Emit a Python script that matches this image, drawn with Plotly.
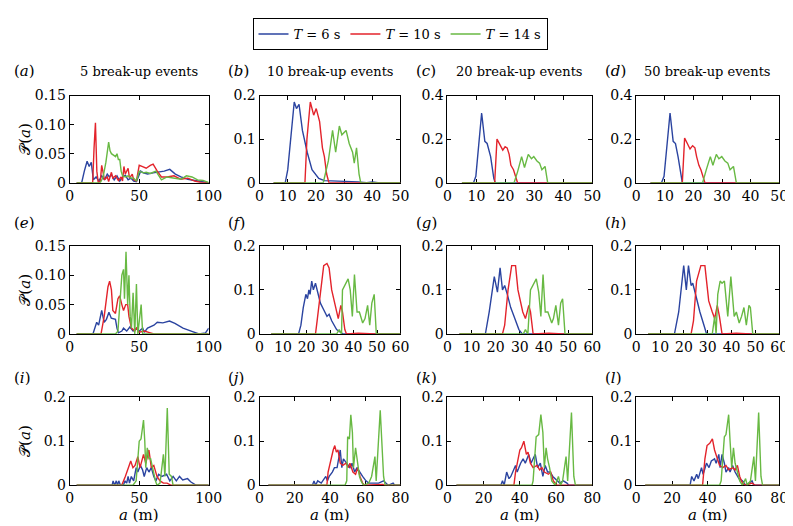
import plotly.graph_objects as go

# ---------------- data (a in m, P(a)) ----------------
a_blue = [(8.6,0),(10.5,0.02),(12.5,0.037),(14,0.028),(15.5,0.035),(17,0.005),(19,0.01),(21,0.003),(23,0.012),(25,0.005),(27,0.015),(28.5,0.01),(30,0.014),(32,0.005),(34,0.012),(36,0.003),(38,0.01),(40,0.013),(42,0.005),(44,0.008),(46,0.003),(48,0.002),(51,0.02),(53,0.017),(56,0.015),(60,0.017),(64,0.018),(68,0.02),(72,0.023),(76,0.015),(80,0.01),(85,0.006),(90,0.004),(95,0.002),(98,0)]
a_red = [(16.5,0),(17.5,0.06),(18.5,0.103),(19.5,0.02),(20.5,0),(22,0.003),(23,0.03),(24,0.018),(25,0.005),(27,0.01),(28,0.002),(30,0.018),(31,0.008),(33,0.012),(35,0.004),(37,0.01),(38,0.003),(39,0.028),(40,0.015),(42,0.025),(43,0.008),(45,0.015),(46,0.005),(48,0.003),(50,0.03),(52,0.028),(55,0.025),(58,0.03),(60,0.032),(63,0.02),(66,0.01),(70,0.01),(75,0.012),(80,0.006),(85,0.008),(90,0.003),(95,0)]
a_green = [(22,0),(24,0.01),(26,0.035),(28,0.07),(29,0.055),(30,0.05),(31,0.048),(33,0.045),(34,0.05),(35,0.04),(36,0.04),(37,0.02),(38,0.012),(40,0.01),(42,0.012),(44,0.008),(46,0.008),(48,0.003),(50,0.02),(53,0.017),(55,0.018),(58,0.016),(62,0.02),(66,0.005),(70,0.01),(75,0.008),(80,0.006),(84,0.012),(88,0.01),(92,0.005),(96,0.004),(100,0)]

b_blue = [(9.1,0),(10,0.03),(11,0.1),(12.3,0.185),(13.1,0.17),(14,0.18),(15.2,0.12),(16.9,0.07),(18.6,0.03),(21,0.01),(23,0.005),(28,0.004),(35,0.002),(38,0),(40,0.002),(42,0)]
b_red = [(16.1,0),(16.8,0.1),(18,0.185),(19.2,0.155),(20.1,0.17),(21.3,0.14),(22.3,0.08),(23,0.06),(23.8,0.02),(24.6,0)]
b_green = [(22.6,0),(24.4,0.05),(25.9,0.12),(27,0.07),(28.3,0.13),(29.2,0.11),(30.7,0.12),(31.8,0.09),(33,0.07),(33.6,0.045),(34.4,0.08),(35.3,0.02),(35.9,0)]

c_blue = [(9,0),(9.8,0.03),(11.8,0.32),(12.9,0.19),(13.7,0.18),(14.9,0.12),(16,0.02),(16.5,0)]
c_red = [(16.3,0),(17.1,0.2),(18.2,0.17),(19.1,0.15),(19.9,0.165),(20.6,0.16),(21.3,0.13),(21.9,0.08),(22.8,0.06),(23.6,0.02),(24.2,0)]
c_green = [(23,0),(24.2,0.05),(25.6,0.12),(26.6,0.07),(27.9,0.13),(29,0.11),(29.8,0.12),(30.9,0.1),(31.8,0.09),(32.6,0.06),(33.7,0.075),(34.6,0)]

d_blue = [(8.8,0),(9.7,0.03),(11.8,0.32),(12.9,0.19),(13.7,0.18),(14.6,0.12),(15.8,0.02),(16.1,0)]
d_red = [(16.1,0),(16.9,0.205),(17.9,0.18),(18.8,0.155),(19.7,0.17),(20.5,0.16),(21.1,0.12),(21.9,0.08),(22.6,0.06),(23.4,0.02),(24,0)]
d_green = [(23.2,0),(24.5,0.06),(25.9,0.12),(26.8,0.08),(28,0.13),(28.9,0.11),(29.9,0.12),(31,0.1),(32,0.09),(32.8,0.06),(34,0.075),(35,0)]

e_blue = [(16.7,0),(19.4,0.02),(20.8,0.015),(23,0.04),(24.8,0.02),(26.4,0.025),(28.2,0.037),(29.9,0.027),(32.9,0.025),(34,0.01),(35,0.002),(37.5,0.005),(38.7,0.01),(41,0.005),(43.3,0.012),(45.6,0.005),(48,0.01),(50,0.005),(52.5,0.01),(53.7,0.003),(56,0.01),(60.6,0.015),(63,0.02),(67,0.019),(71.8,0.022),(75.7,0.018),(81.5,0.01),(88.4,0.004),(93,0),(97.7,0.002),(100,0.01)]
e_red = [(22.5,0),(24.8,0.03),(27.5,0.08),(28.7,0.09),(30,0.075),(31,0.04),(32.9,0.035),(34.7,0.06),(35.9,0.065),(37.5,0.05),(38.7,0.04),(40.3,0.05),(41.7,0.05),(42.6,0.03),(44.4,0.01),(46.8,0.005),(48,0.01),(50,0.003),(53.7,0.005),(58,0.002),(60.6,0)]
e_green = [(32.9,0),(34.7,0.005),(36.3,0.06),(37.5,0.1),(38.7,0.11),(39.4,0.06),(40.5,0.14),(41.7,0.05),(42.6,0.1),(43.5,0.03),(44.4,0.01),(45.6,0.07),(46.8,0),(48,0.085),(49,0),(51.4,0.05),(52.5,0)]

f_blue = [(16.6,0),(17.6,0.02),(18.6,0.06),(19.7,0.09),(20.4,0.08),(21,0.1),(21.5,0.09),(22.2,0.12),(22.9,0.1),(23.8,0.115),(24.8,0.09),(25.9,0.07),(27.3,0.055),(28.7,0.04),(29.6,0.045),(30.7,0.03),(32.8,0.01),(34.2,0.005),(35.6,0)]
f_red = [(23.8,0),(24.5,0.03),(25.9,0.1),(27.3,0.155),(28.7,0.16),(29.6,0.15),(30.7,0.1),(31.9,0.07),(32.8,0.045),(33.5,0.035),(34.6,0.065),(35.3,0.05),(36.3,0.01),(37,0),(42,0.002),(49.4,0)]
f_green = [(32.8,0),(33.9,0.01),(34.9,0),(35.3,0.1),(36.3,0.11),(37.7,0.125),(38.6,0.1),(39.5,0.04),(40.4,0.135),(41.5,0.05),(42.5,0.05),(43.9,0.025),(44.9,0.035),(46,0.065),(46.9,0.02),(47.8,0.07),(48.8,0.09),(49.7,0)]

g_blue = [(15.7,0),(17.3,0.05),(19.4,0.13),(20.7,0.095),(21.8,0.15),(22.8,0.1),(23.7,0.11),(24.8,0.09),(26.2,0.06),(27.6,0.04),(29.6,0.01),(31,0)]
g_red = [(22.8,0),(23.7,0.02),(25.1,0.1),(26.6,0.155),(28.2,0.155),(29.2,0.1),(30.3,0.07),(31.2,0.05),(32.3,0.035),(33.7,0.065),(34.4,0.05),(35.5,0),(42,0.002),(48,0)]
g_green = [(31.4,0),(32.3,0.01),(33.3,0),(34.4,0.1),(35.5,0.11),(36.8,0.125),(37.8,0.095),(38.7,0.04),(39.6,0.135),(40.5,0.05),(41.6,0.05),(43.2,0.025),(43.9,0.035),(44.9,0.065),(46,0.02),(46.9,0.07),(47.7,0.08),(48.7,0)]

h_blue = [(16,0),(17.8,0.05),(19.9,0.155),(21,0.1),(21.9,0.155),(23,0.11),(23.7,0.115),(25.1,0.085),(26.7,0.05),(28.4,0.02),(29.5,0)]
h_red = [(23,0),(24,0.03),(25.3,0.12),(27.1,0.155),(28.8,0.155),(29.5,0.12),(30.4,0.075),(31.9,0.05),(32.9,0.035),(34,0.065),(34.9,0.04),(36,0),(42,0.002),(48,0)]
h_green = [(31.9,0),(32.9,0.04),(33.5,0),(34.2,0.09),(35.2,0.12),(36,0.115),(37,0.12),(38.4,0.04),(39.7,0.13),(41.1,0.04),(42,0.05),(43.2,0.025),(44.2,0.04),(45.2,0.06),(46.2,0.02),(47.3,0.065),(47.9,0.06),(48.9,0)]

i_blue = [(30.5,0),(31.2,0.01),(32.3,0),(33.5,0.01),(34.4,0),(35.3,0.01),(36.5,0),(38.6,0),(39.8,0.01),(41,0.005),(42,0.02),(43,0.005),(44.3,0.02),(46,0.01),(47.8,0.04),(49,0.03),(50.8,0.045),(52.4,0.035),(53.6,0.02),(55.4,0.04),(57,0.03),(58.7,0.04),(60.5,0.02),(62,0.01),(64,0.025),(66.3,0.02),(69.7,0.025),(72,0.01),(74.4,0.02),(76.7,0.01),(79,0.02),(81.3,0.012),(84.8,0.015),(87,0.008),(91,0)]
i_red = [(37.4,0),(40,0.02),(41.6,0.035),(43.9,0.055),(45.5,0.04),(47,0.045),(49,0.065),(50.6,0.04),(53.1,0.07),(54.7,0.05),(57,0.08),(58.7,0.04),(60.5,0.045),(62.8,0.02),(65,0.01),(67.4,0.005),(70,0.005),(73,0)]
i_green = [(45.5,0),(47.8,0.01),(50,0.1),(51.3,0.105),(53.1,0.148),(54,0.1),(54.7,0.04),(55.8,0.085),(57,0.06),(58.2,0.06),(60,0.03),(61.7,0.01),(62.8,0),(65,0.005),(67.4,0.07),(68.5,0.02),(70.2,0.175),(71.6,0.025),(73.2,0.02),(74.4,0)]

j_blue = [(30,0),(30.9,0.01),(31.8,0),(33,0.01),(35,0.005),(37.6,0.02),(38.5,0.01),(39.5,0.02),(41.3,0.03),(42.5,0.04),(44,0.04),(45.8,0.08),(46.7,0.04),(47.6,0.06),(49.5,0.05),(51.3,0.04),(52.5,0.05),(54,0.03),(55.3,0.04),(56.7,0.03),(58.5,0.02),(60.4,0.01),(62,0.005),(67.6,0.005),(70.4,0.01),(73,0),(75.8,0.005),(76.7,0)]
j_red = [(38.2,0),(38.9,0.03),(40.4,0.06),(41.8,0.08),(42.7,0.09),(43.6,0.075),(44.5,0.08),(45.8,0.05),(47.3,0.045),(49,0.05),(50.4,0.04),(51.3,0.05),(53,0.03),(54.5,0.025),(55.8,0.04),(57,0.02),(58.5,0.005),(59.5,0),(70,0.002),(71,0)]
j_green = [(48.5,0),(49.5,0.01),(50,0.11),(51,0.105),(51.8,0.16),(52.7,0.12),(53.3,0.04),(54.5,0.085),(55.3,0.06),(56.7,0.02),(57.6,0.01),(59,0),(62,0.005),(63.6,0.02),(65.5,0.065),(66.2,0.01),(68.5,0.17),(69.5,0.1),(70.4,0.02),(71.3,0)]

k_blue = [(29.5,0),(30.4,0.01),(31.3,0),(32.7,0.03),(34,0.015),(35,0.02),(37.6,0.045),(38.5,0.03),(40.4,0.05),(41.8,0.06),(43,0.05),(44.9,0.07),(46.2,0.05),(47.3,0.06),(48.5,0.07),(49.8,0.04),(51.3,0.05),(52.7,0.02),(54,0.045),(55.3,0.03),(56.7,0.03),(58.2,0.02),(60.4,0.01),(62,0.005),(64,0.01),(66,0.005),(67,0)]
k_red = [(36.7,0),(37.6,0.03),(38.9,0.06),(40,0.08),(40.9,0.085),(42.2,0.1),(43.6,0.07),(44.5,0.075),(45.8,0.05),(47.3,0.04),(49.5,0.045),(50.9,0.035),(52.2,0.04),(53.5,0.03),(55.8,0.025),(57,0.03),(58.5,0.01),(60.4,0)]
k_green = [(46.7,0),(47.3,0.01),(49,0.11),(50.4,0.115),(51.6,0.16),(52.7,0.12),(53.5,0.04),(54.5,0.085),(55.3,0.06),(56.4,0.04),(57.6,0.01),(59.5,0),(61.3,0.02),(62.5,0),(63.6,0.01),(65.5,0.065),(66.4,0.01),(68.5,0.165),(69.8,0.02),(70.7,0)]

l_blue = [(30.1,0),(31,0.02),(32.3,0.01),(33.8,0.025),(34.7,0.015),(36.5,0.04),(37.4,0.025),(39.3,0.05),(40.7,0.04),(42,0.055),(43.8,0.06),(44.7,0.05),(46.2,0.07),(46.9,0.04),(48,0.07),(49.3,0.05),(50.2,0.03),(51.7,0.04),(52.5,0.03),(53.9,0.045),(55.3,0.03),(57.5,0.015),(59.4,0.01),(61.2,0),(64.8,0.01),(65.8,0)]
l_red = [(37.1,0),(38.4,0.06),(39.6,0.09),(41.1,0.095),(42.6,0.105),(43.8,0.08),(44.7,0.07),(46.6,0.045),(48.4,0.04),(50.2,0.045),(51.7,0.035),(53.9,0.04),(55.3,0.035),(56.6,0.045),(57.9,0.02),(59.4,0.005),(61.2,0),(64.8,0.005),(66.6,0)]
l_green = [(46.6,0),(47.5,0.01),(49.3,0.11),(50.2,0.115),(51.7,0.16),(52.5,0.1),(53.4,0.04),(54.4,0.085),(55.3,0.05),(56.6,0.03),(57.9,0.01),(59.4,0),(61.2,0.015),(62.1,0),(63.9,0.01),(65.8,0.065),(66.7,0.01),(68.5,0.165),(69.8,0.02),(70.7,0)]

series_names = ["<i>T</i> = 6 s", "<i>T</i> = 10 s", "<i>T</i> = 14 s"]
col_titles = ["5 break-up events", "10 break-up events", "20 break-up events", "50 break-up events"]
panel_letters = ["a", "b", "c", "d", "e", "f", "g", "h", "i", "j", "k", "l"]

panel_series = [
    (a_blue, a_red, a_green), (b_blue, b_red, b_green), (c_blue, c_red, c_green), (d_blue, d_red, d_green),
    (e_blue, e_red, e_green), (f_blue, f_red, f_green), (g_blue, g_red, g_green), (h_blue, h_red, h_green),
    (i_blue, i_red, i_green), (j_blue, j_red, j_green), (k_blue, k_red, k_green), (l_blue, l_red, l_green),
]

x_max = [100, 50, 50, 50, 100, 60, 60, 60, 100, 80, 80, 80]
x_ticks = [[0, 50, 100], list(range(0, 51, 10)), list(range(0, 51, 10)), list(range(0, 51, 10)),
           [0, 50, 100], list(range(0, 61, 10)), list(range(0, 61, 10)), list(range(0, 61, 10)),
           [0, 50, 100], list(range(0, 81, 20)), list(range(0, 81, 20)), list(range(0, 81, 20))]
y_max = [0.15, 0.2, 0.4, 0.4, 0.15, 0.2, 0.2, 0.2, 0.2, 0.2, 0.2, 0.2]
y_ticks = [[0, 0.05, 0.10, 0.15], [0, 0.1, 0.2], [0, 0.2, 0.4], [0, 0.2, 0.4],
           [0, 0.05, 0.10, 0.15], [0, 0.1, 0.2], [0, 0.1, 0.2], [0, 0.1, 0.2],
           [0, 0.1, 0.2], [0, 0.1, 0.2], [0, 0.1, 0.2], [0, 0.1, 0.2]]
y_ticktext = [["0", "0.05", "0.10", "0.15"], ["0", "0.1", "0.2"], ["0", "0.2", "0.4"], ["0", "0.2", "0.4"],
              ["0", "0.05", "0.10", "0.15"], ["0", "0.1", "0.2"], ["0", "0.1", "0.2"], ["0", "0.1", "0.2"],
              ["0", "0.1", "0.2"], ["0", "0.1", "0.2"], ["0", "0.1", "0.2"], ["0", "0.1", "0.2"]]

colors = ["#2B44A0", "#E3232B", "#68B943"]

W, H = 793, 526
col_px = [(59, 201), (253, 397), (445, 593), (638, 784)]
row_px = [(82, 172), (237, 328), (393, 484)]
FONT = "DejaVu Serif"

fig = go.Figure()
layout = dict(width=W, height=H, margin=dict(l=0, r=0, t=0, b=0),
              plot_bgcolor="white", paper_bgcolor="white", showlegend=True,
              font=dict(family=FONT, color="black"))
annotations = []

for p in range(12):
    r, c = divmod(p, 4)
    n = p + 1
    xa = "xaxis" if n == 1 else f"xaxis{n}"
    ya = "yaxis" if n == 1 else f"yaxis{n}"
    xref = "x" if n == 1 else f"x{n}"
    yref = "y" if n == 1 else f"y{n}"
    x0, x1 = col_px[c]
    y0, y1 = row_px[r]
    common = dict(showline=True, linecolor="black", linewidth=1, mirror="ticks",
                  ticks="inside", ticklen=4, tickcolor="black", showgrid=False,
                  zeroline=False, layer="below traces",
                  tickfont=dict(family=FONT, size=14, color="black"))
    layout[xa] = dict(common, domain=[x0 / W, x1 / W], range=[0, x_max[p]],
                      tickvals=x_ticks[p], ticktext=[str(v) for v in x_ticks[p]],
                      anchor=yref)
    layout[ya] = dict(common, domain=[1 - y1 / H, 1 - y0 / H], range=[0, y_max[p]],
                      tickvals=y_ticks[p], ticktext=y_ticktext[p], anchor=xref)

    for s, pts in enumerate(panel_series[p]):
        pts = [(5, 0)] + list(pts)
        if pts[-1][0] < x_max[p]:
            pts = pts + [(x_max[p], 0)]
        fig.add_trace(go.Scatter(
            x=[q[0] for q in pts], y=[q[1] for q in pts], mode="lines",
            line=dict(color=colors[s], width=1.4),
            name=series_names[s], showlegend=(p == 0), legendrank=s,
            xaxis=xref, yaxis=yref, hoverinfo="skip"))

    lab_y = [57, 213, 373][r]
    lab_x = 0 if c == 0 else x0 - 34
    annotations.append(dict(text=f"(<i>{panel_letters[p]}</i>)", xref="paper", yref="paper",
                            x=lab_x / W, y=1 - lab_y / H, xanchor="left", yanchor="middle",
                            showarrow=False, font=dict(family=FONT, size=15, color="black")))
    if r == 0:
        annotations.append(dict(text=col_titles[c], xref="paper", yref="paper",
                                x=(x0 + x1) / 2 / W, y=1 - 57 / H, xanchor="center",
                                yanchor="middle", showarrow=False,
                                font=dict(family=FONT, size=13, color="black")))
    if c == 0:
        annotations.append(dict(text="𝒫(<i>a</i>)", xref="paper", yref="paper",
                                x=13 / W, y=1 - (y0 + y1) / 2 / H, xanchor="center",
                                yanchor="middle", textangle=-90, showarrow=False,
                                font=dict(family=FONT, size=15, color="black")))
    if r == 2:
        annotations.append(dict(text="<i>a</i> (m)", xref="paper", yref="paper",
                                x=(x0 + x1) / 2 / W, y=1 - 515 / H, xanchor="center",
                                yanchor="middle", showarrow=False,
                                font=dict(family=FONT, size=15, color="black")))

layout["annotations"] = annotations
layout["legend"] = dict(orientation="h", x=0.5, xanchor="center", y=0.996, yanchor="top",
                        bordercolor="black", borderwidth=1, bgcolor="white",
                        font=dict(family=FONT, size=13, color="black"),
                        itemwidth=30, tracegroupgap=0)
fig.update_layout(**layout)
fig.write_html("out.html")
